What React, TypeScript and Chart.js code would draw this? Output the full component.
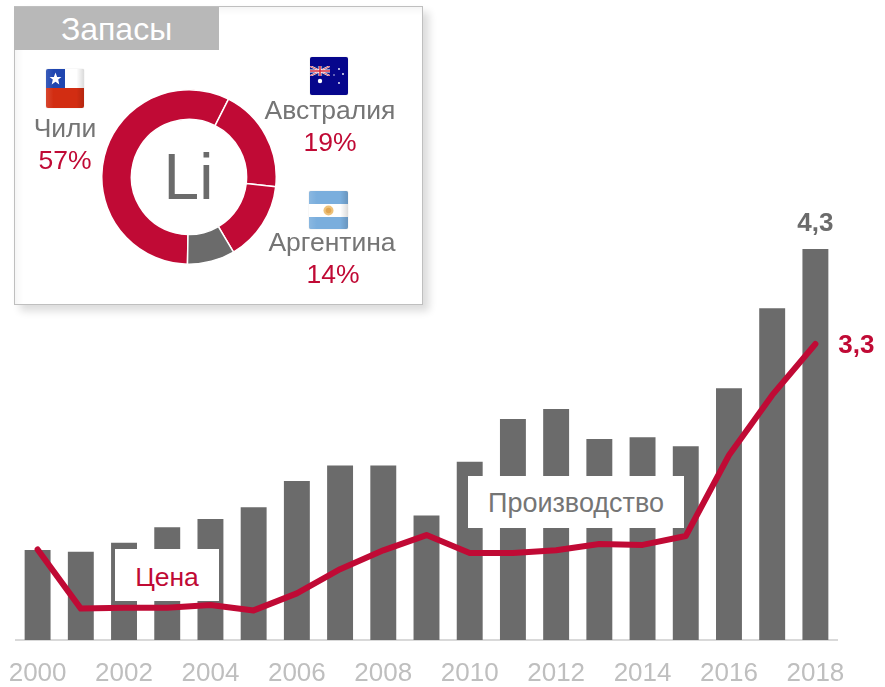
import React, { useEffect, useRef } from "react";
import { Chart, registerables } from "chart.js";

Chart.register(...registerables);

const years = ["2000","2001","2002","2003","2004","2005","2006","2007","2008","2009","2010","2011","2012","2013","2014","2015","2016","2017","2018"];
const production = [0.99,0.97,1.07,1.24,1.33,1.46,1.75,1.92,1.92,1.37,1.96,2.43,2.54,2.21,2.23,2.13,2.77,3.65,4.3];
const price = [1.01,0.35,0.36,0.36,0.39,0.33,0.52,0.79,1.0,1.17,0.97,0.97,1.0,1.07,1.06,1.16,2.06,2.73,3.3];
const reserveNames = ["Чили","Австралия","Аргентина","Прочие"];
const reserveShares = [57.2,19.3,14.7,8.8];

const RED = "#c00a35";
const GREY = "#6b6b6b";
const TEXT_GREY = "#757575";
const FONT = "'Liberation Sans', Arial, sans-serif";

const endLabels = {
  id: "endLabels",
  afterDatasetsDraw(chart: any) {
    const { ctx, scales } = chart;
    const last = years.length - 1;
    const x = scales.x.getPixelForValue(last);
    ctx.save();
    ctx.font = `bold 26px ${FONT}`;
    ctx.textBaseline = "middle";
    ctx.textAlign = "center";
    ctx.fillStyle = GREY;
    ctx.fillText(String(production[last]).replace(".", ","), x, scales.y.getPixelForValue(production[last]) - 25);
    ctx.fillStyle = RED;
    ctx.fillText(String(price[last]).replace(".", ","), x + 41, scales.y1.getPixelForValue(price[last]) + 2);
    ctx.restore();
  },
};

const abs = (left: number, top: number, w: number, h: number): React.CSSProperties => ({
  position: "absolute", left, top, width: w, height: h,
});

function Txt({ cx, cy, color, size, children }: any) {
  return (
    <div style={{ position: "absolute", left: cx - 100, top: cy - 20, width: 200, height: 40, lineHeight: "40px", textAlign: "center", color, fontSize: size, fontFamily: FONT }}>
      {children}
    </div>
  );
}

const flagBox: React.CSSProperties = { borderRadius: 2, overflow: "hidden", boxShadow: "0 0 1px rgba(0,0,0,.3)" };
const gloss = <div style={{ position: "absolute", inset: 0, background: "linear-gradient(90deg, rgba(255,255,255,.12), rgba(255,255,255,0) 20%, rgba(0,0,0,0) 80%, rgba(0,0,0,.14))" }} />;

function ChileFlag() {
  return (
    <div style={{ ...abs(46, 69, 38, 39), ...flagBox, background: "#fff" }}>
      <div style={abs(0, 19, 38, 20)}><div style={{ width: "100%", height: "100%", background: "#d22d12" }} /></div>
      <div style={abs(0, 0, 19, 19)}><div style={{ width: "100%", height: "100%", background: "#1f46b0" }} /></div>
      <svg style={abs(3, 3, 13, 13)} viewBox="0 0 24 24"><polygon fill="#fff" points="12,1 15,9 23,9 17,14 19,23 12,18 5,23 7,14 1,9 9,9" /></svg>
      {gloss}
    </div>
  );
}

function AustraliaFlag() {
  return (
    <div style={{ ...abs(310, 57, 38, 38), ...flagBox, background: "#06068c" }}>
      <svg style={abs(0, 9, 20, 10)} viewBox="0 0 20 10">
        <rect width="20" height="10" fill="#0a1a8c" />
        <path d="M0 0L20 10M20 0L0 10" stroke="#fff" strokeWidth="2" />
        <path d="M0 0L20 10M20 0L0 10" stroke="#d8283c" strokeWidth="0.8" />
        <path d="M10 0V10M0 5H20" stroke="#fff" strokeWidth="3" />
        <path d="M10 0V10M0 5H20" stroke="#d8283c" strokeWidth="1.6" />
      </svg>
      <svg style={abs(0, 0, 38, 38)} viewBox="0 0 38 38" fill="#fff">
        <circle cx="10" cy="24" r="2.2" />
        <circle cx="29" cy="12" r="0.9" />
        <circle cx="33" cy="17" r="0.9" />
        <circle cx="24" cy="18" r="0.7" />
        <circle cx="29" cy="26" r="0.9" />
      </svg>
    </div>
  );
}

function ArgentinaFlag() {
  return (
    <div style={{ ...abs(309, 191, 39, 38), ...flagBox, background: "#7aaedd" }}>
      <div style={abs(0, 13, 39, 13)}><div style={{ width: "100%", height: "100%", background: "#fff" }} /></div>
      <svg style={abs(14, 14, 11, 11)} viewBox="0 0 11 11"><circle cx="5.5" cy="5.5" r="5" fill="#eec27a" /><circle cx="5.5" cy="5.5" r="2.8" fill="#e0a552" /></svg>
      {gloss}
    </div>
  );
}

export default function App() {
  const mainRef = useRef<HTMLCanvasElement>(null);
  const donutRef = useRef<HTMLCanvasElement>(null);

  useEffect(() => {
    const main = new Chart(mainRef.current!, {
      type: "bar",
      data: {
        labels: years,
        datasets: [
          { type: "line", label: "Цена", data: price, yAxisID: "y1", borderColor: RED, borderWidth: 6, borderCapStyle: "round", borderJoinStyle: "round", pointRadius: 0, tension: 0, order: 1 } as any,
          { type: "bar", label: "Производство", data: production, yAxisID: "y", backgroundColor: GREY, barPercentage: 0.6, categoryPercentage: 1, order: 2 } as any,
        ],
      },
      options: {
        responsive: false,
        animation: false,
        layout: { padding: { left: 16, right: 48, top: 240, bottom: 0 } },
        plugins: { legend: { display: false }, tooltip: { enabled: false } },
        scales: {
          x: {
            afterFit(scale: any) { scale.height = 47; scale.paddingLeft = 0; scale.paddingRight = 0; },
            grid: { display: false, drawTicks: false },
            border: { color: "#d9d9d9", width: 2 },
            ticks: {
              color: "#bfbfbf",
              font: { family: FONT, size: 26 },
              padding: 18,
              maxRotation: 0,
              autoSkip: false,
              callback(_v: any, i: number) { return i % 2 === 0 ? years[i] : ""; },
            },
          },
          y: { display: false, min: 0, max: 4.4 },
          y1: { display: false, min: 0, max: 4.46 },
        },
      },
      plugins: [endLabels],
    });

    const donut = new Chart(donutRef.current!, {
      type: "doughnut",
      data: {
        labels: reserveNames,
        datasets: [{
          data: reserveShares,
          backgroundColor: [RED, RED, RED, GREY],
          borderColor: "#ffffff",
          borderWidth: 1.5,
        }],
      },
      options: {
        responsive: false,
        animation: false,
        rotation: 181,
        cutout: "66%",
        layout: { padding: 0 },
        plugins: { legend: { display: false }, tooltip: { enabled: false } },
      },
    });

    return () => { main.destroy(); donut.destroy(); };
  }, []);

  return (
    <div style={{ position: "absolute", left: 0, top: 0, width: 885, height: 687, overflow: "hidden", background: "#fff", fontFamily: FONT }}>
      <canvas ref={mainRef} width={885} height={687} style={{ ...abs(0, 0, 885, 687), display: "block" }} />

      <div style={{ ...abs(115, 549, 104, 52), background: "#fff", color: RED, fontSize: 26.5, lineHeight: "56px", textAlign: "center" }}>Цена</div>
      <div style={{ ...abs(468, 476, 216, 52), background: "#fff", color: TEXT_GREY, fontSize: 27, lineHeight: "54px", textAlign: "center" }}>Производство</div>

      <div style={{ ...abs(14, 6, 409, 299), boxSizing: "border-box", background: "#fff", border: "1px solid #bfbfbf", boxShadow: "6px 6px 8px rgba(0,0,0,.14), inset 8px 8px 8px -6px rgba(0,0,0,.06)" }} />
      <div style={{ ...abs(14, 7, 205, 43), background: "#b8b8b8", color: "#fff", fontSize: 32, lineHeight: "45px", textAlign: "center" }}>Запасы</div>

      <canvas ref={donutRef} width={176} height={176} style={{ ...abs(100.5, 88.5, 176, 176), display: "block" }} />
      <Txt cx={188.5} cy={177} color={GREY} size={64}>Li</Txt>

      <ChileFlag />
      <AustraliaFlag />
      <ArgentinaFlag />

      <Txt cx={65} cy={128} color={TEXT_GREY} size={26.5}>Чили</Txt>
      <Txt cx={65} cy={160} color={RED} size={26.5}>57%</Txt>
      <Txt cx={330} cy={110} color={TEXT_GREY} size={26.5}>Австралия</Txt>
      <Txt cx={330} cy={142} color={RED} size={26.5}>19%</Txt>
      <Txt cx={332} cy={242} color={TEXT_GREY} size={26.5}>Аргентина</Txt>
      <Txt cx={333} cy={274} color={RED} size={26.5}>14%</Txt>
    </div>
  );
}
